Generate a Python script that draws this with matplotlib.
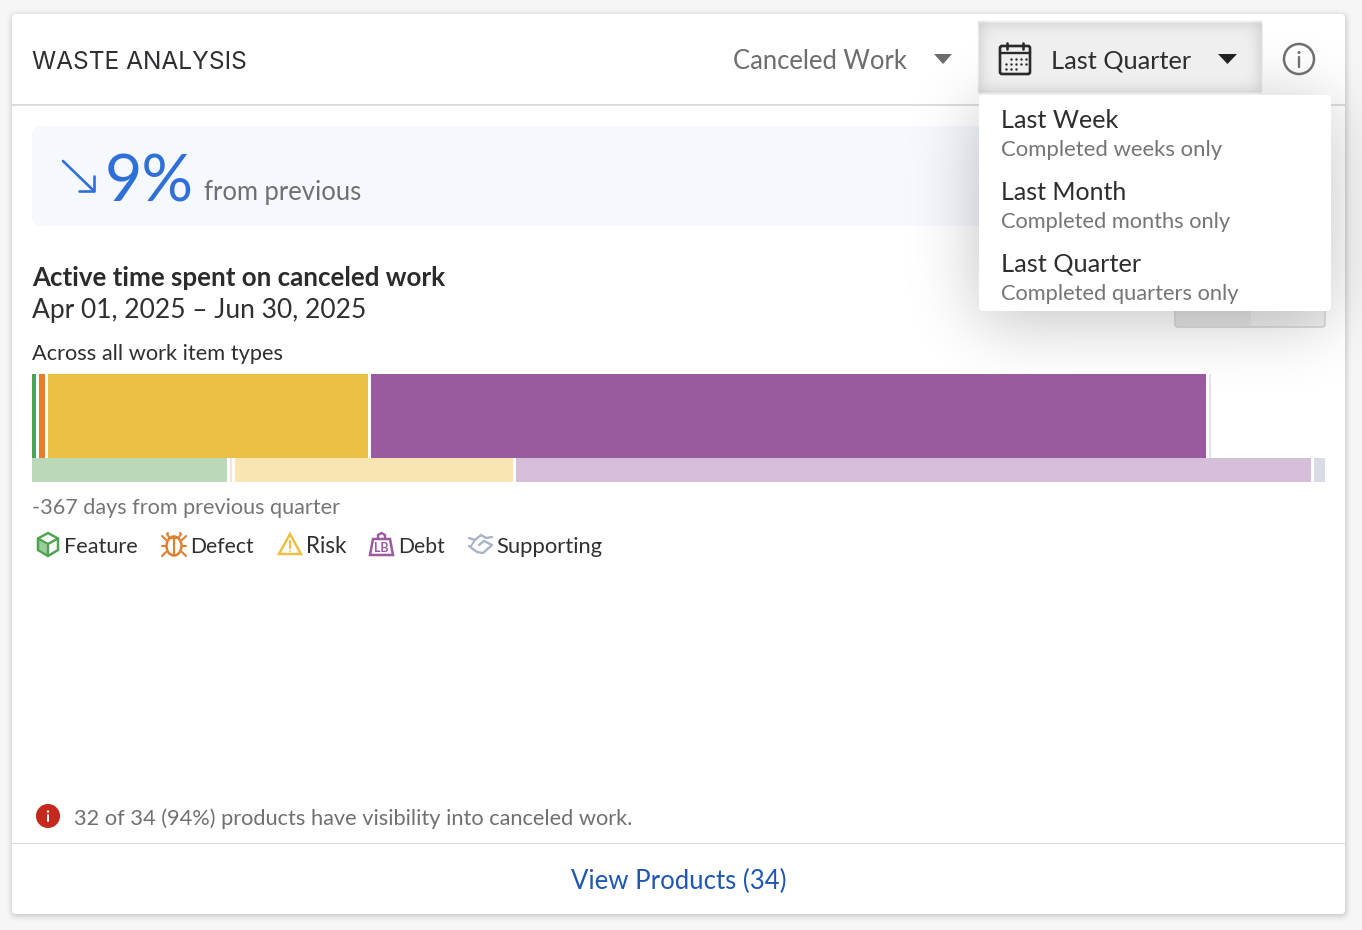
import numpy as np
import matplotlib
matplotlib.use("Agg")
import matplotlib.pyplot as plt
from matplotlib.patches import Rectangle, FancyBboxPatch, Circle, Polygon, Ellipse

# ---- data -----
type_names = ["Feature", "Defect", "Risk", "Debt", "Supporting"]
current_share = [4, 5.5, 320, 835, 2]
previous_share = [195, 2, 278, 795, 11]
strong_colors = ["#4fa24f", "#e07f2f", "#ecc045", "#9a5a9f", "#e2e2ec"]
light_colors = ["#bbd9b9", "#f8e3d5", "#f8e5b2", "#d6bdd9", "#d9dce6"]
legend_text_x = [64, 190, 306, 398, 496.5]
legend_text_w = [73, 63, 40, 46, 106]
menu_titles = ["Last Week", "Last Month", "Last Quarter"]
menu_notes = ["Completed weeks only", "Completed months only", "Completed quarters only"]

W, H = 1362, 930
FONT = "Lato"
fig = plt.figure(figsize=(W / 100, H / 100), dpi=100, facecolor="#f6f6f6")
ax = fig.add_axes([0, 0, 1, 1], zorder=0)
ax.set_xlim(0, W); ax.set_ylim(H, 0); ax.axis("off")
renderer = fig.canvas.get_renderer()


def T(x0, x1, y, s, color="#333333", weight="normal", z=10, family=FONT):
    t = ax.text(x0, y, s, color=color, fontweight=weight, va="baseline", ha="left",
                fontsize=16, family=family, zorder=z)
    w = t.get_window_extent(renderer).width
    t.set_fontsize(16 * (x1 + 0.8 - x0) / w)
    return t


def blur(a, sigma):
    r = int(3 * sigma)
    k = np.exp(-0.5 * (np.arange(-r, r + 1) / sigma) ** 2)
    k /= k.sum()
    a = np.apply_along_axis(lambda m: np.convolve(m, k, mode="same"), 0, a)
    a = np.apply_along_axis(lambda m: np.convolve(m, k, mode="same"), 1, a)
    return a


def rect_mask(x0, x1, y0, y1):
    m = np.zeros((H // 2, W // 2))
    m[y0 // 2:y1 // 2, x0 // 2:x1 // 2] = 1
    return m


def shadow(alpha, z):
    img = np.zeros(alpha.shape + (4,))
    img[..., 3] = alpha
    ax.imshow(img, extent=(0, W, H, 0), aspect="auto", interpolation="bilinear", zorder=z)


def rr(x0, y0, x1, y1, r, fc, ec="none", z=1, lw=0):
    p = FancyBboxPatch((x0 + r, y0 + r), x1 - x0 - 2 * r, y1 - y0 - 2 * r,
                       boxstyle=f"round,pad={r},rounding_size={r}", fc=fc, ec=ec, lw=lw, zorder=z)
    ax.add_patch(p)
    return p


def L(xs, ys, c, lw=1.7, z=11):
    ax.plot(xs, ys, color=c, lw=lw, zorder=z, solid_capstyle="round", solid_joinstyle="round")


# card
shadow(0.22 * blur(rect_mask(12, 1346, 16, 916), 1.5), 0.5)
rr(12, 14, 1345, 914, 4, "white", z=1)
ax.add_patch(Rectangle((12, 104), 1333, 1.6, fc="#dcdcdc", ec="none", zorder=2))
ax.add_patch(Rectangle((12, 842.5), 1333, 1.6, fc="#dcdcdc", ec="none", zorder=2))

# header
T(32, 247, 69, "WASTE ANALYSIS", "#2f2f33", family="Inter")
T(733, 907, 69, "Canceled Work", "#6d6d6d")
ax.add_patch(Polygon([(934, 54), (952, 54), (943, 64)], fc="#6d6d6d", ec="none", zorder=10))
ax.add_patch(Circle((1299, 59), 15, fc="none", ec="#6f6f6f", lw=1.8, zorder=10))
ax.add_patch(Circle((1299, 52.5), 1.5, fc="#6f6f6f", ec="none", zorder=10))
L([1299, 1299], [57, 67], "#6f6f6f", 1.7)

# stat panel
rr(32, 126, 1325, 226, 10, "#f5f8fd", z=2)
L([63, 94], [161, 191], "#2f6fd8", 1.9)
L([79, 94, 94], [191, 191, 176], "#2f6fd8", 1.9)
T(104.5, 193, 201, "9%", "#2f6fd8")
T(204, 361, 200, "from previous", "#707070")

# titles
T(32, 445, 286, "Active time spent on canceled work", "#2b2b2b", "bold")
T(32, 367, 318, "Apr 01, 2025 \u2013 Jun 30, 2025", "#2f2f2f")
T(32, 283, 360, "Across all work item types", "#2f2f2f")
T(32, 342, 514, "-367 days from previous quarter", "#757575")

# hidden toggle button behind the menu
rr(1175, 300, 1325, 327, 3, "#f0f0f0", ec="#d8d8d8", z=3, lw=1.2)
ax.add_patch(Rectangle((1176, 300), 75, 26, fc="#e6e6e6", ec="none", zorder=3.1))

# dropdown shadow
shadow(0.24 * blur(rect_mask(979, 1331, 105, 322), 17), 4)

# selected button
rr(979, 23, 1263, 95, 3, "#efefef", z=5)
btn = rect_mask(979, 1263, 23, 95)
inset = (1 - blur(btn, 4)) * btn * 0.2
shadow(inset, 5.5)
T(1051, 1191, 68, "Last Quarter", "#2d2d2d")
ax.add_patch(Polygon([(1218, 54), (1237, 54), (1227.5, 64)], fc="#222222", ec="none", zorder=10))
# calendar icon
rr(1000, 46, 1030, 74, 2, "none", ec="#2a2a2a", z=10, lw=1.9)
L([1000, 1030], [53, 53], "#2a2a2a", 1.7)
L([1007, 1007], [43, 49], "#2a2a2a", 1.9)
L([1023, 1023], [43, 49], "#2a2a2a", 1.9)
dx = [1006, 1011, 1016, 1021, 1026]
for yy, xs in ((59, dx[1:]), (64, dx), (69, dx[:3])):
    ax.scatter(xs, [yy] * len(xs), s=3, c="#2a2a2a", zorder=10, lw=0)

# dropdown menu
rr(979, 95, 1331, 311, 4, "white", z=6)
title_y = [128, 200, 271]
for i, (a, b) in enumerate(zip(menu_titles, menu_notes)):
    T(1001, [1118, 1126, 1141][i], title_y[i], a, "#2d2d2d", z=7)
    T(1001, [1222, 1231, 1239][i], 156 + 72 * i, b, "#757575", z=7)

# ---- stacked bars, through their own axes ----
bx = fig.add_axes([32 / W, 1 - 482 / H, (1325 - 32) / W, (482 - 374) / H], zorder=2)
bx.patch.set_alpha(0)
bx.set_xlim(0, 1293); bx.set_ylim(0, 108); bx.axis("off")
GAP = 3
for vals, cols, base, height in ((current_share, strong_colors, 24, 84),
                                 (previous_share, light_colors, 0, 24)):
    left = 0
    for v, c in zip(vals, cols):
        bx.barh(base, v, left=left, height=height, align="edge", color=c, lw=0)
        left += v + GAP

# legend
for name, x, w in zip(type_names, legend_text_x, legend_text_w):
    T(x, x + w, 553, name, "#2f2f2f")
# cube
g = "#4fa24f"
ax.add_patch(Polygon([(39, 540), (47, 545), (47, 554), (39, 549)], fc="#9ccb9c", ec="none", zorder=10))
ax.add_patch(Polygon([(48, 533), (58, 538.5), (58, 550), (48, 556), (38, 550), (38, 538.5)], fc="none", ec=g, lw=1.8, zorder=11))
L([38, 48, 58], [538.5, 544, 538.5], g)
L([48, 48], [544, 556], g)
# bug
o = "#e07f2f"
ax.add_patch(Ellipse((174, 546), 15, 19, fc="none", ec=o, lw=1.8, zorder=11))
L([174, 174], [538, 555], o, 1.5)
L([169, 179], [538, 538], o, 1.5)
L([169, 167, 168], [537, 534, 533], o, 1.5); L([179, 181, 180], [537, 534, 533], o, 1.5)
for y0, y1 in ((540, 536), (546, 546), (552, 556)):
    L([166, 162], [y0, y1], o, 1.5); L([182, 186], [y0, y1], o, 1.5)
# triangle
y = "#ecc045"
ax.add_patch(Polygon([(290, 534), (301, 554), (279, 554)], fc="none", ec=y, lw=1.8, zorder=11))
L([290, 290], [541, 548], y, 1.6)
ax.add_patch(Circle((290, 551), 0.9, fc=y, ec="none", zorder=11))
# bag
p = "#9a5a9f"
ax.add_patch(Polygon([(373, 539), (390, 539), (393, 555), (370, 555)], fc="none", ec=p, lw=1.8, zorder=11))
L([378, 378, 381.5, 385, 385], [539, 535, 533, 535, 539], p)
ax.text(381.5, 552, "LB", color=p, fontsize=9, fontweight="bold", ha="center", va="baseline", family=FONT, zorder=11)
# handshake
s = "#aab4c8"
L([469, 475, 481, 486, 492], [538, 540, 535, 538, 537], s)
L([469, 477, 483, 492, 484, 479], [546, 552, 553, 545, 541, 545], s)
L([475, 471], [540, 546], s, 1.4)

# footer
ax.add_patch(Circle((48, 816), 12, fc="#c5281c", ec="none", zorder=10))
ax.add_patch(Circle((48, 811.5), 1.2, fc="white", ec="none", zorder=11))
L([48, 48], [815, 821], "white", 1.4)
T(74, 633, 825, "32 of 34 (94%) products have visibility into canceled work.", "#707070")
T(571, 786, 889, "View Products (34)", "#1f57b5")

fig.savefig("out.png", dpi=100, facecolor=fig.get_facecolor())
